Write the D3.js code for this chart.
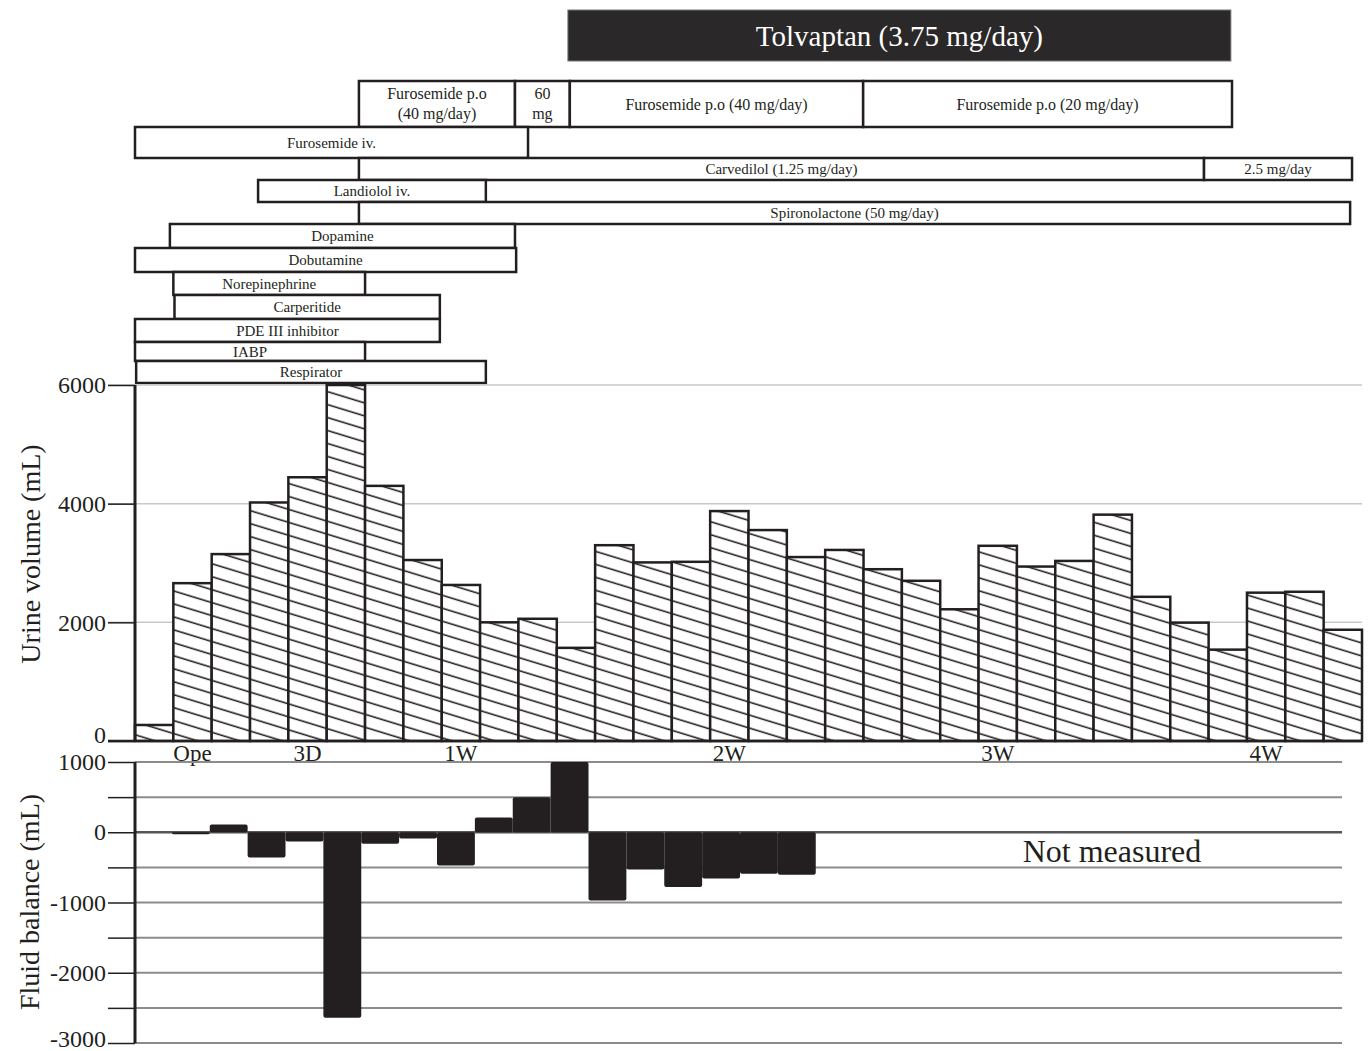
<!DOCTYPE html>
<html>
<head>
<meta charset="utf-8">
<script src="https://cdn.jsdelivr.net/npm/d3@7"></script>
<style>
  body { margin: 0; background: #fff; }
  text { font-family: "Liberation Serif", "Times New Roman", serif; fill: #231f20; }
</style>
</head>
<body>
<div id="container"></div>
<script>
// urine volume per day (mL), 32 days
var urineVolume = [270, 2660, 3150, 4020, 4445, 6000, 4300, 3050, 2630, 2000, 2060, 1570,
                   3300, 3010, 3020, 3875, 3555, 3100, 3220, 2895, 2700, 2220, 3290, 2940,
                   3035, 3815, 2430, 1995, 1540, 2500, 2515, 1875];
// fluid balance (mL), measured only for days 1..17
var fluidDay = [1, 2, 3, 4, 5, 6, 7, 8, 9, 10, 11, 12, 13, 14, 15, 16, 17];
var fluidBalance = [-30, 110, -360, -130, -2640, -165, -90, -475, 210, 500, 1000, -970, -530, -780, -660, -590, -605];

var dayLabelIndex = [1, 4, 8, 15, 22, 29];
var dayLabelText = ["Ope", "3D", "1W", "2W", "3W", "4W"];

var urineTicks = [0, 2000, 4000, 6000];
var fluidTicks = [1000, 0, -1000, -2000, -3000];

// treatments: start/end in days, row index
var drugNames = ["Tolvaptan (3.75 mg/day)", "Furosemide p.o|(40 mg/day)", "60|mg",
  "Furosemide p.o (40 mg/day)", "Furosemide p.o (20 mg/day)", "Furosemide iv.",
  "Carvedilol (1.25 mg/day)", "2.5 mg/day", "Landiolol iv.", "Spironolactone (50 mg/day)",
  "Dopamine", "Dobutamine", "Norepinephrine", "Carperitide", "PDE III inhibitor", "IABP", "Respirator"];
var drugStart = [11.29, 5.84, 9.91, 11.34, 18.99, 0, 5.84, 27.88, 3.21, 5.84, 0.91, 0, 1.0, 1.03, 0, 0, 0.03];
var drugEnd = [28.58, 9.91, 11.34, 18.99, 28.61, 10.25, 27.88, 31.74, 9.15, 31.69, 9.91, 9.94, 6.0, 7.95, 7.95, 6.0, 9.15];
var drugRow = [0, 1, 1, 1, 1, 2, 3, 3, 4, 5, 6, 7, 8, 9, 10, 11, 12];

var width = 1369;
var height = 1051;
var left = 135;
var tickLeft = 108;
// row layout of the treatment timeline
var rowTop = [10, 81, 127, 158, 180, 202, 224, 248, 272, 295, 319, 342, 361];
var rowBottom = [61, 127, 158, 180, 202, 224, 248, 272, 295, 319, 342, 361, 383];

var svg = d3.select("#container").append("svg")
  .attr("width", width)
  .attr("height", height);

var defs = svg.append("defs");
var pat = defs.append("pattern")
  .attr("id", "hatch")
  .attr("patternUnits", "userSpaceOnUse")
  .attr("width", 10)
  .attr("height", 12.4)
  .attr("patternTransform", "rotate(17)");
pat.append("rect").attr("width", 10).attr("height", 12.4).attr("fill", "#fff");
pat.append("line")
  .attr("x1", 0).attr("x2", 10).attr("y1", 6).attr("y2", 6)
  .attr("stroke", "#231f20").attr("stroke-width", 1.6);

var xBand = d3.scaleBand().domain(d3.range(32)).range([left, 1362]);
var xDay = d3.scaleLinear().domain([0, 32]).range([left, 1362]);
var yUrine = d3.scaleLinear().domain([0, 6000]).range([741, 385]);
var xFluid = d3.scaleBand().domain(d3.range(32)).range([134, 1346]);
var yFluid = d3.scaleLinear().domain([-3000, 1000]).range([1043, 762]);

// ---- treatment timeline ----
var tl = svg.append("g");
var drugs = drugNames.map(function(n, i) {
  return { name: n, start: drugStart[i], end: drugEnd[i], row: drugRow[i] };
});
tl.selectAll("rect")
  .data(drugs)
  .enter()
  .append("rect")
  .attr("x", function(d) { return xDay(d.start); })
  .attr("y", function(d) { return rowTop[d.row]; })
  .attr("width", function(d) { return xDay(d.end) - xDay(d.start); })
  .attr("height", function(d) { return rowBottom[d.row] - rowTop[d.row]; })
  .attr("fill", function(d) { return d.row === 0 ? "#2a2828" : "#fff"; })
  .attr("stroke", function(d) { return d.row === 0 ? "#777" : "#231f20"; })
  .attr("stroke-width", function(d) { return d.row === 0 ? 1 : 2.5; });

tl.selectAll("text")
  .data(drugs)
  .enter()
  .append("text")
  .attr("text-anchor", "middle")
  .attr("x", function(d) { return (xDay(d.start) + xDay(d.end)) / 2; })
  .attr("y", function(d) { return (rowTop[d.row] + rowBottom[d.row]) / 2; })
  .style("font-size", function(d) { return d.row === 0 ? "29px" : (d.row === 1 ? "16px" : "15px"); })
  .style("fill", function(d) { return d.row === 0 ? "#fff" : "#231f20"; })
  .each(function(d) {
    var parts = d.name.split("|");
    var t = d3.select(this);
    if (parts.length === 1) {
      t.attr("dy", "0.35em").text(parts[0]);
    } else {
      t.append("tspan").attr("x", t.attr("x")).attr("dy", "-0.3em").text(parts[0]);
      t.append("tspan").attr("x", t.attr("x")).attr("dy", "1.25em").text(parts[1]);
    }
  });

// ---- urine volume chart ----
var uc = svg.append("g");
uc.selectAll(".grid")
  .data(urineTicks.slice(1))
  .enter()
  .append("line")
  .attr("x1", tickLeft).attr("x2", 1362)
  .attr("y1", function(d) { return yUrine(d); })
  .attr("y2", function(d) { return yUrine(d); })
  .attr("stroke", "#c8c8cc").attr("stroke-width", 1.5);

uc.selectAll(".bar")
  .data(urineVolume)
  .enter()
  .append("rect")
  .attr("class", "bar")
  .attr("x", function(d, i) { return xBand(i); })
  .attr("y", function(d) { return yUrine(d); })
  .attr("width", xBand.bandwidth())
  .attr("height", function(d) { return yUrine(0) - yUrine(d); })
  .attr("fill", "url(#hatch)")
  .attr("stroke", "#231f20")
  .attr("stroke-width", 2.5);

var yAxisU = d3.axisLeft(yUrine).tickValues(urineTicks).tickSize(left - tickLeft).tickPadding(2)
  .tickFormat(function(d) { return String(d); });
var gU = uc.append("g").attr("transform", "translate(" + left + ",0)").call(yAxisU);
gU.select(".domain").remove();
gU.selectAll(".tick line").attr("stroke", "#231f20").attr("stroke-width", 1.5);
gU.selectAll(".tick text").style("font-size", "24px").style("font-family", "Liberation Serif, serif").attr("fill", "#231f20")
  .attr("dy", function(d) { return d === 0 ? "0.05em" : "0.32em"; });

uc.append("line")
  .attr("x1", left).attr("x2", left)
  .attr("y1", yUrine(6000)).attr("y2", yUrine(0))
  .attr("stroke", "#231f20").attr("stroke-width", 3);
uc.append("line")
  .attr("x1", tickLeft).attr("x2", 1362)
  .attr("y1", yUrine(0)).attr("y2", yUrine(0))
  .attr("stroke", "#231f20").attr("stroke-width", 2.5);

var xAxisU = d3.axisBottom(xBand)
  .tickValues(dayLabelIndex)
  .tickFormat(function(d) { return dayLabelText[dayLabelIndex.indexOf(d)]; })
  .tickSize(0)
  .tickPadding(4);
var gX = uc.append("g").attr("transform", "translate(0," + yUrine(0) + ")").call(xAxisU);
gX.select(".domain").remove();
gX.selectAll(".tick text").style("font-size", "23px").style("font-family", "Liberation Serif, serif").attr("fill", "#231f20");

svg.append("text")
  .attr("transform", "translate(40,554) rotate(-90)")
  .attr("text-anchor", "middle")
  .style("font-size", "28px")
  .text("Urine volume (mL)");

// ---- fluid balance chart ----
var fc = svg.append("g");
fc.selectAll(".fgrid")
  .data(d3.range(-3000, 1001, 500))
  .enter()
  .append("line")
  .attr("x1", left).attr("x2", 1342)
  .attr("y1", function(d) { return yFluid(d); })
  .attr("y2", function(d) { return yFluid(d); })
  .attr("stroke", function(d) { return d === 0 ? "#555" : "#8c8c8c"; })
  .attr("stroke-width", function(d) { return d === 0 ? 2.5 : 2; });

var yAxisF = d3.axisLeft(yFluid).tickValues(d3.range(-3000, 1001, 500)).tickSize(left - tickLeft).tickPadding(2)
  .tickFormat(function(d) { return fluidTicks.indexOf(d) >= 0 ? String(d) : ""; });
var gF = fc.append("g").attr("transform", "translate(" + left + ",0)").call(yAxisF);
gF.select(".domain").remove();
gF.selectAll(".tick line").attr("stroke", "#231f20").attr("stroke-width", 1.5);
gF.selectAll(".tick text").style("font-size", "24px").style("font-family", "Liberation Serif, serif").attr("fill", "#231f20")
  .attr("dy", function(d) { return d === -3000 ? "0.15em" : "0.32em"; });

fc.selectAll(".fbar")
  .data(fluidBalance)
  .enter()
  .append("rect")
  .attr("class", "fbar")
  .attr("x", function(d, i) { return xFluid(fluidDay[i]); })
  .attr("y", function(d) { return yFluid(Math.max(0, d)); })
  .attr("width", xFluid.bandwidth())
  .attr("height", function(d) { return Math.abs(yFluid(d) - yFluid(0)); })
  .attr("rx", 2)
  .attr("fill", "#231f20");

fc.append("line")
  .attr("x1", left).attr("x2", left)
  .attr("y1", yFluid(1000)).attr("y2", yFluid(-3000))
  .attr("stroke", "#231f20").attr("stroke-width", 3);

fc.append("text")
  .attr("x", 1112).attr("y", 862)
  .attr("text-anchor", "middle")
  .style("font-size", "32px")
  .text("Not measured");

svg.append("text")
  .attr("transform", "translate(39,902) rotate(-90)")
  .attr("text-anchor", "middle")
  .style("font-size", "28px")
  .text("Fluid balance (mL)");
</script>
</body>
</html>
